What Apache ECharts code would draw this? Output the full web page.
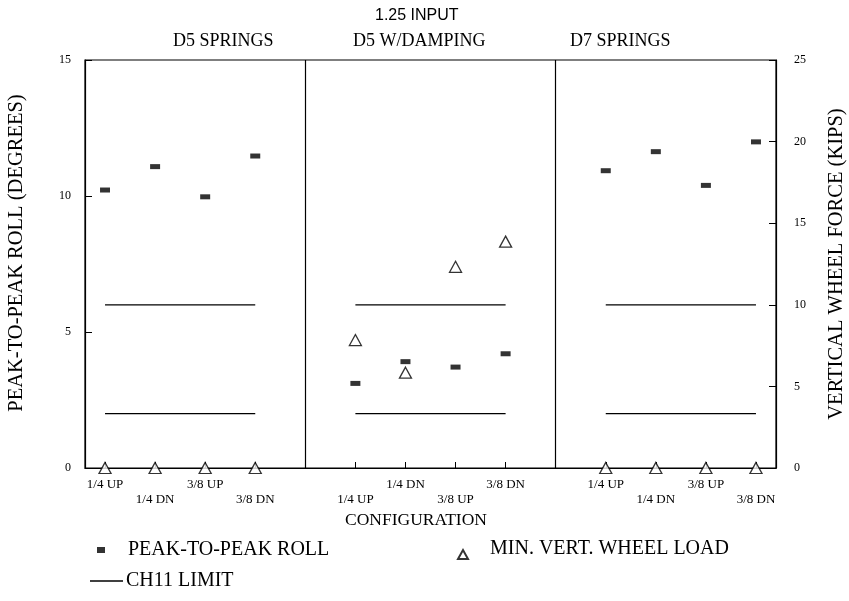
<!DOCTYPE html>
<html>
<head>
<meta charset="utf-8">
<script src="https://cdn.jsdelivr.net/npm/echarts@6/dist/echarts.min.js"></script>
<style>
  html, body { margin: 0; padding: 0; background: #fff; }
  #chart { width: 849px; height: 601px; }
</style>
</head>
<body>
<div id="chart"></div>
<script>
// Configurations tested in each spring/damping group
const configLabels = ['1/4 UP', '1/4 DN', '3/8 UP', '3/8 DN'];
const groupNames = ['D5 SPRINGS', 'D5 W/DAMPING', 'D7 SPRINGS'];
// Slot of each configuration along the configuration axis (gaps separate groups)
const configSlots = [1, 2, 3, 4, 6, 7, 8, 9, 11, 12, 13, 14];
const groupDividers = [5, 10];

// Peak-to-peak roll (degrees)
const peakRoll = [10.22, 11.08, 9.97, 11.47, 3.11, 3.91, 3.71, 4.20, 10.93, 11.63, 10.39, 11.99];
// Minimum vertical wheel load (kips)
const minWheelLoad = [0, 0, 0, 0, 7.84, 5.84, 12.33, 13.87, 0, 0, 0, 0];
// CH11 roll limits (degrees)
const ch11Limits = [6, 2];

const leftTicks = [0, 5, 10, 15];
const rightTicks = [0, 5, 10, 15, 20, 25];

const serif = '"Liberation Serif", "Times New Roman", serif';
const sans = '"Liberation Sans", Arial, sans-serif';

const chart = echarts.init(document.getElementById('chart'), null, { renderer: 'canvas' });

// Limit segments: one per group and limit level, spanning the group's configurations
const limitSeries = [];
for (let g = 0; g < groupNames.length; g++) {
  const slots = configSlots.slice(g * 4, g * 4 + 4);
  ch11Limits.forEach(lim => {
    limitSeries.push({
      name: 'CH11 LIMIT',
      type: 'line',
      yAxisIndex: 0,
      symbol: 'none',
      silent: true,
      lineStyle: { color: '#000', width: 1.3 },
      itemStyle: { color: '#000' },
      data: [[slots[0], lim], [slots[slots.length - 1], lim]]
    });
  });
}

// Labels alternate rows; the middle group starts on the lower row
function labelFor(v) {
  const i = configSlots.indexOf(v);
  if (i < 0) return '';
  const g = Math.floor(i / 4);
  const k = i % 4;
  const lower = (g === 1) ? (k % 2 === 0) : (k % 2 === 1);
  return (lower ? '\n' : '') + configLabels[k];
}

const legendText = { fontFamily: serif, fontSize: 20, color: '#000' };

const option = {
  backgroundColor: '#fff',
  animation: false,
  grid: {
    left: 85, right: 73, top: 60, bottom: 133,
    outerBoundsMode: 'none', containLabel: false,
    show: true, borderColor: '#000', borderWidth: 1.2
  },
  graphic: [
    { type: 'text', left: 375, top: 8, style: { text: '1.25 INPUT', font: '16px ' + sans, fill: '#000' } },
    { type: 'text', left: 173, top: 32, style: { text: groupNames[0], font: '18px ' + serif, fill: '#000' } },
    { type: 'text', left: 353, top: 32, style: { text: groupNames[1], font: '18px ' + serif, fill: '#000' } },
    { type: 'text', left: 570, top: 32, style: { text: groupNames[2], font: '18px ' + serif, fill: '#000' } },
    { type: 'text', left: 345, top: 511, style: { text: 'CONFIGURATION', font: '17.5px ' + serif, fill: '#000' } }
  ],
  legend: [
    {
      data: ['PEAK-TO-PEAK ROLL'], left: 92, top: 535,
      itemWidth: 8, itemHeight: 6,
      textStyle: Object.assign({ padding: [0, 0, 0, 18] }, legendText)
    },
    {
      data: [{ name: 'MIN. VERT. WHEEL LOAD', icon: 'path://M5,0 L5,0 M0,20 L5,11 L10,20 Z' }],
      left: 452, top: 533,
      itemWidth: 10, itemHeight: 20,
      textStyle: Object.assign({ padding: [0, 0, 0, 17] }, legendText)
    },
    {
      data: [{ name: 'CH11 LIMIT', icon: 'path://M0,0 L33,0 L33,1.4 L0,1.4 Z' }],
      left: 85, top: 566, itemWidth: 33, itemHeight: 1.4,
      itemStyle: { color: '#000', borderWidth: 0 },
      textStyle: Object.assign({ padding: [0, 0, 10, -2] }, legendText)
    }
  ],
  xAxis: {
    type: 'value',
    min: 0.6, max: 14.4,
    axisLine: { show: true, lineStyle: { color: '#000', width: 1.2 } },
    axisTick: { show: true, inside: true, length: 6, customValues: configSlots, lineStyle: { color: '#000' } },
    axisLabel: {
      show: true, customValues: configSlots, margin: 9,
      fontFamily: serif, fontSize: 13, color: '#000', lineHeight: 15,
      formatter: labelFor
    },
    splitLine: { show: false }
  },
  yAxis: [
    {
      type: 'value', min: 0, max: 15, interval: 5, position: 'left',
      name: 'PEAK-TO-PEAK ROLL (DEGREES)', nameLocation: 'middle', nameRotate: 90, nameGap: 58,
      nameTextStyle: { fontFamily: serif, fontSize: 20.5, color: '#000', padding: [0, 0, 0, 22] },
      axisLine: { show: true, lineStyle: { color: '#000', width: 1.2 } },
      axisTick: { show: true, inside: true, length: 7, lineStyle: { color: '#000' } },
      axisLabel: { margin: 14, fontFamily: serif, fontSize: 12, color: '#000',
        customValues: leftTicks },
      splitLine: { show: false }
    },
    {
      type: 'value', min: 0, max: 25, interval: 5, position: 'right',
      name: 'VERTICAL WHEEL FORCE (KIPS)', nameLocation: 'middle', nameRotate: 90, nameGap: 50,
      nameTextStyle: { fontFamily: serif, fontSize: 20.5, color: '#000' },
      axisLine: { show: true, lineStyle: { color: '#000', width: 1.2 } },
      axisTick: { show: true, inside: true, length: 7, lineStyle: { color: '#000' } },
      axisLabel: { margin: 18, fontFamily: serif, fontSize: 12, color: '#000',
        customValues: rightTicks },
      splitLine: { show: false }
    }
  ],
  series: [
    {
      name: 'PEAK-TO-PEAK ROLL',
      type: 'scatter',
      yAxisIndex: 0,
      clip: false,
      symbol: 'rect',
      symbolSize: [10, 5],
      itemStyle: { color: '#000' },
      data: configSlots.map((s, i) => [s, peakRoll[i]]),
      markLine: {
        silent: true,
        symbol: 'none',
        label: { show: false },
        lineStyle: { color: '#000', width: 1.2, type: 'solid' },
        data: groupDividers.map(d => ({ xAxis: d }))
      },
      z: 3
    },
    {
      name: 'MIN. VERT. WHEEL LOAD',
      type: 'scatter',
      yAxisIndex: 1,
      clip: false,
      symbol: 'triangle',
      symbolSize: [12, 11],
      itemStyle: { color: '#fff', borderColor: '#000', borderWidth: 1.3 },
      data: configSlots.map((s, i) => [s, minWheelLoad[i]]),
      z: 4
    }
  ].concat(limitSeries)
};

chart.setOption(option);
</script>
</body>
</html>
